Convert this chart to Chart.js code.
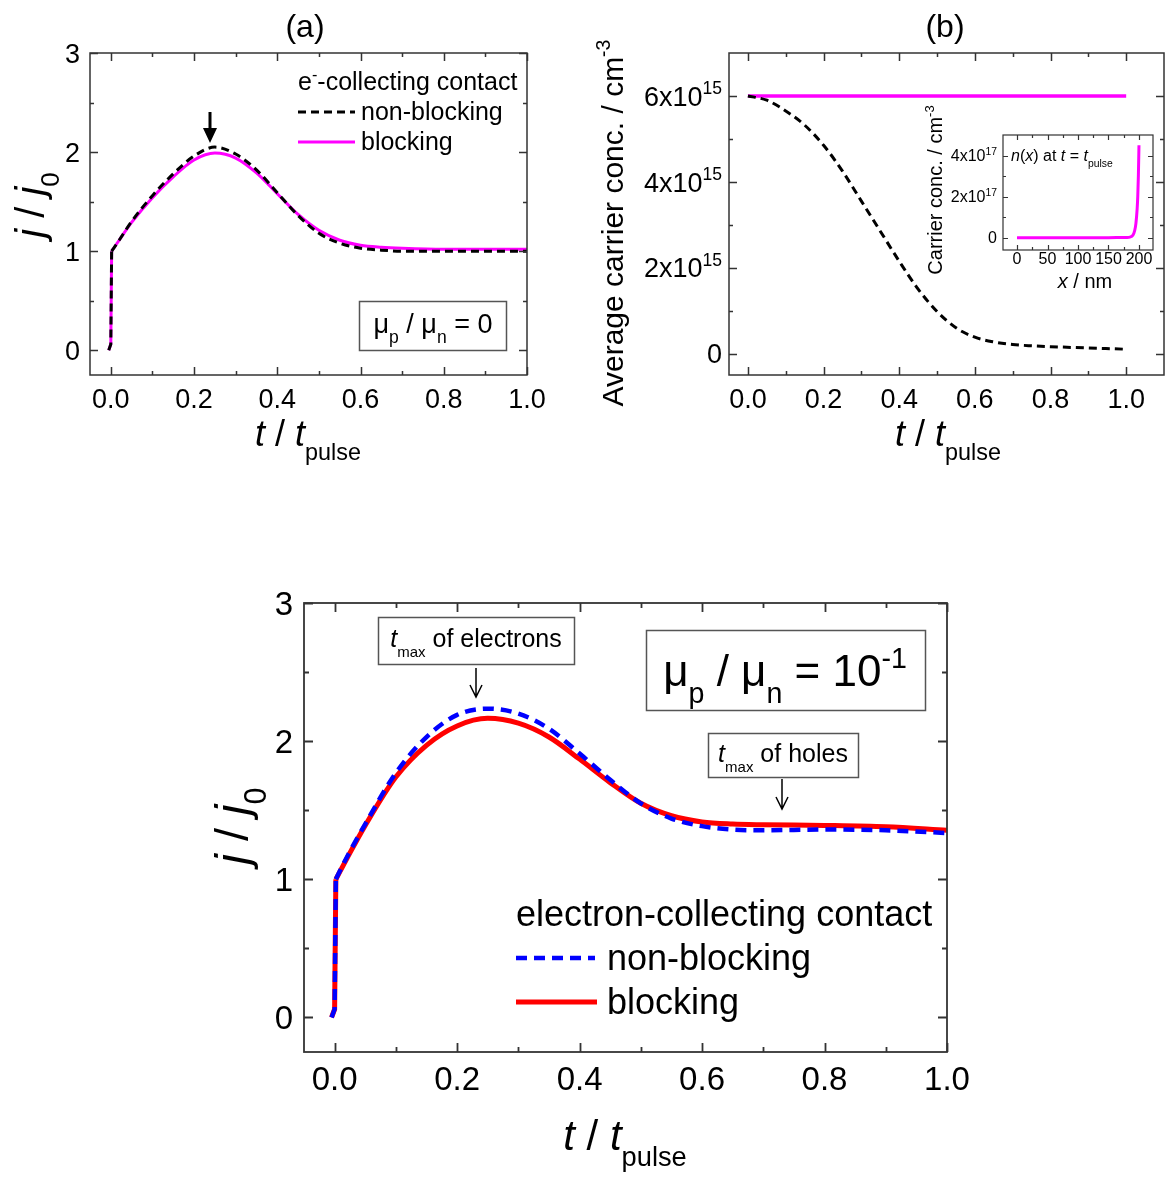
<!DOCTYPE html>
<html>
<head>
<meta charset="utf-8">
<title>Transient current, mu_p / mu_n</title>
<script src="https://cdn.jsdelivr.net/npm/chart.js@4.4.1/dist/chart.umd.min.js"></script>
<style>
  body { margin: 0; background: #fff; }
  #page { position: relative; width: 1169px; height: 1177px; overflow: hidden; background: #fff; }
  canvas { position: absolute; }
</style>
</head>
<body>
<div id="page">
  <canvas id="chartA" width="560" height="470" style="left:0px;top:0px"></canvas>
  <canvas id="chartB" width="599" height="470" style="left:570px;top:0px"></canvas>
  <canvas id="chartInset" width="269" height="215" style="left:900px;top:90px"></canvas>
  <canvas id="chartC" width="800" height="602" style="left:180px;top:575px"></canvas>
</div>
<script>
// (a) mu_p / mu_n = 0, j / j0 vs t / t_pulse
const tA = [-0.005, 0, 0.002, 0.02, 0.05, 0.1, 0.15, 0.2, 0.25, 0.3, 0.35, 0.4, 0.45, 0.5, 0.55, 0.6, 0.65, 0.7, 0.8, 0.9, 1.0];
const jNonBlockingA = [0, 0.06, 1.0, 1.11, 1.30, 1.56, 1.78, 1.96, 2.05, 1.98, 1.82, 1.59, 1.36, 1.18, 1.08, 1.03, 1.01, 1.0, 1.0, 1.0, 1.0];
const jBlockingA = [0, 0.06, 1.0, 1.11, 1.29, 1.54, 1.75, 1.92, 1.99, 1.94, 1.79, 1.58, 1.37, 1.21, 1.11, 1.06, 1.04, 1.03, 1.02, 1.02, 1.02];

// (b) average carrier concentration, units of 1e15 cm^-3
const tB = [0, 0.05, 0.1, 0.15, 0.2, 0.25, 0.3, 0.35, 0.4, 0.45, 0.5, 0.55, 0.6, 0.65, 0.7, 0.75, 0.8, 0.9, 1.0];
const nNonBlockingB = [6.0, 5.9, 5.65, 5.32, 4.85, 4.25, 3.55, 2.85, 2.15, 1.5, 0.98, 0.6, 0.38, 0.27, 0.21, 0.18, 0.16, 0.13, 0.10];
const nBlockingB = [6, 6, 6, 6, 6, 6, 6, 6, 6, 6, 6, 6, 6, 6, 6, 6, 6, 6, 6];

// inset: n(x) at t = t_pulse, units of 1e17 cm^-3
const xInset = [0, 25, 50, 75, 100, 125, 150, 170, 180, 185, 190, 193, 195, 197, 198, 199, 200];
const nInset = [0, 0, 0, 0, 0, 0, 0, 0.005, 0.01, 0.03, 0.12, 0.35, 0.7, 1.4, 2.0, 3.0, 4.5];

// (c) mu_p / mu_n = 1e-1
const tC = [-0.005, 0, 0.002, 0.02, 0.05, 0.1, 0.15, 0.2, 0.25, 0.3, 0.35, 0.4, 0.45, 0.5, 0.55, 0.6, 0.65, 0.7, 0.8, 0.9, 1.0];
const jNonBlockingC = [0, 0.06, 1.0, 1.16, 1.40, 1.77, 2.03, 2.19, 2.235, 2.20, 2.09, 1.91, 1.72, 1.55, 1.44, 1.385, 1.36, 1.355, 1.36, 1.355, 1.335];
const jBlockingC = [0, 0.06, 1.0, 1.15, 1.39, 1.74, 1.97, 2.11, 2.165, 2.13, 2.03, 1.87, 1.70, 1.55, 1.46, 1.415, 1.40, 1.395, 1.39, 1.38, 1.355];

// ticks
const tTicks = [0, 0.2, 0.4, 0.6, 0.8, 1.0];
const tMinor = [0.1, 0.3, 0.5, 0.7, 0.9];
const jTicks = [0, 1, 2, 3];
const jMinor = [0.5, 1.5, 2.5];
const nTicksB = [0, 2, 4, 6];
const nMinorB = [1, 3, 5];
const xTicksInset = [0, 50, 100, 150, 200];
const xMinorInset = [25, 75, 125, 175];
const nTicksInset = [0, 2, 4];
const nMinorInset = [1, 3];

const FONT = '"Liberation Sans", Arial, sans-serif';

// draws a run of text pieces (italic / sub / sup) starting at baseline y
function rich(ctx, parts, x, y, size, align, rot) {
  ctx.save();
  ctx.translate(x, y);
  if (rot) ctx.rotate(rot);
  ctx.textBaseline = 'alphabetic';
  ctx.textAlign = 'left';
  let w = 0;
  const items = parts.map(p => {
    const o = typeof p === 'string' ? { t: p } : p;
    const s = (o.sub || o.sup) ? size * (o.k || 0.65) : size;
    const font = (o.i ? 'italic ' : '') + s + 'px ' + FONT;
    ctx.font = font;
    const it = { t: o.t, font: font, x: w, dy: o.sub ? size * 0.38 : o.sup ? -size * 0.42 : 0 };
    w += ctx.measureText(o.t).width;
    return it;
  });
  const x0 = align === 'center' ? -w / 2 : align === 'right' ? -w : 0;
  ctx.fillStyle = '#000';
  items.forEach(it => { ctx.font = it.font; ctx.fillText(it.t, x0 + it.x, it.dy); });
  ctx.restore();
}

function line(ctx, x1, y1, x2, y2, color, lw, dash) {
  ctx.save();
  ctx.strokeStyle = color;
  ctx.lineWidth = lw;
  ctx.setLineDash(dash || []);
  ctx.beginPath();
  ctx.moveTo(x1, y1);
  ctx.lineTo(x2, y2);
  ctx.stroke();
  ctx.restore();
}

function box(ctx, x1, y1, x2, y2) {
  ctx.save();
  ctx.strokeStyle = '#555';
  ctx.lineWidth = 1.5;
  ctx.strokeRect(x1 + 0.5, y1 + 0.5, x2 - x1, y2 - y1);
  ctx.restore();
}

function thinArrow(ctx, x, y1, y2) {
  ctx.save();
  ctx.strokeStyle = '#000';
  ctx.lineWidth = 1.5;
  ctx.beginPath();
  ctx.moveTo(x, y1); ctx.lineTo(x, y2);
  ctx.moveTo(x - 6, y2 - 12); ctx.lineTo(x, y2); ctx.lineTo(x + 6, y2 - 12);
  ctx.stroke();
  ctx.restore();
}

// box, inward ticks on four sides, tick labels, plus panel texts
function framePlugin(f) {
  return {
    id: 'frame',
    afterDatasetsDraw(chart) {
      const ctx = chart.ctx, a = chart.chartArea;
      const sx = chart.scales.x, sy = chart.scales.y;
      ctx.save();
      ctx.strokeStyle = '#333';
      ctx.lineWidth = f.lw;
      ctx.strokeRect(a.left, a.top, a.right - a.left, a.bottom - a.top);
      ctx.beginPath();
      const xt = (vals, len) => vals.forEach(v => {
        const p = Math.round(sx.getPixelForValue(v)) + 0.5;
        ctx.moveTo(p, a.bottom); ctx.lineTo(p, a.bottom - len);
        ctx.moveTo(p, a.top); ctx.lineTo(p, a.top + len);
      });
      const yt = (vals, len) => vals.forEach(v => {
        const p = Math.round(sy.getPixelForValue(v)) + 0.5;
        ctx.moveTo(a.left, p); ctx.lineTo(a.left + len, p);
        ctx.moveTo(a.right, p); ctx.lineTo(a.right - len, p);
      });
      xt(f.xMajor, f.major); xt(f.xMinor, f.minor);
      yt(f.yMajor, f.major); yt(f.yMinor, f.minor);
      ctx.stroke();
      f.xMajor.forEach(v => rich(ctx, [f.xFmt(v)], sx.getPixelForValue(v), a.bottom + f.xGap, f.size, 'center'));
      f.yMajor.forEach(v => rich(ctx, f.yFmt(v), a.left - f.yGap, sy.getPixelForValue(v) + f.size * 0.36, f.size, 'right'));
      if (f.extra) {
        ctx.save();
        ctx.translate(-f.ox, -f.oy);
        f.extra(ctx);
        ctx.restore();
      }
      ctx.restore();
    }
  };
}

function pts(xs, ys) { return xs.map((x, i) => ({ x: x, y: ys[i] })); }

// the jump at t = 0 is drawn straight, the rest of the curve smooth
function jumpAndCurve(xs, ys, style) {
  const all = pts(xs, ys);
  return [
    Object.assign({ data: all.slice(0, 3), cubicInterpolationMode: 'default', tension: 0 }, style),
    Object.assign({ data: all.slice(2) }, style)
  ];
}

function baseOptions(pad, xr, yr) {
  return {
    responsive: false,
    animation: false,
    events: [],
    layout: { padding: pad },
    plugins: { legend: { display: false }, tooltip: { enabled: false }, title: { display: false } },
    elements: { point: { radius: 0 }, line: { cubicInterpolationMode: 'monotone' } },
    scales: {
      x: { type: 'linear', display: false, min: xr[0], max: xr[1] },
      y: { type: 'linear', display: false, min: yr[0], max: yr[1] }
    }
  };
}

const fmt1 = v => v.toFixed(1);
const intLabel = v => [String(v)];

// panel (a)
new Chart(document.getElementById('chartA'), {
  type: 'line',
  data: {
    datasets: [
      ...jumpAndCurve(tA, jNonBlockingA, { label: 'non-blocking', borderColor: '#000', borderWidth: 3, borderDash: [8, 5] }),
      ...jumpAndCurve(tA, jBlockingA, { label: 'blocking', borderColor: '#ff00ff', borderWidth: 3 })
    ]
  },
  options: baseOptions({ left: 90, right: 33, top: 53, bottom: 95 }, [-0.05, 1.0], [-0.25, 3]),
  plugins: [framePlugin({
    lw: 1.5, major: 8, minor: 4, size: 27, xGap: 33, yGap: 10, ox: 0, oy: 0,
    xMajor: tTicks, xMinor: tMinor, yMajor: jTicks, yMinor: jMinor,
    xFmt: fmt1, yFmt: intLabel,
    extra(ctx) {
      rich(ctx, ['(a)'], 305, 37, 32, 'center');
      rich(ctx, [{ t: 'j', i: 1 }, ' / ', { t: 'j', i: 1 }, { t: '0', sub: 1 }], 44, 205, 40, 'center', -Math.PI / 2);
      rich(ctx, [{ t: 't', i: 1 }, ' / ', { t: 't', i: 1 }, { t: 'pulse', sub: 1 }], 308, 446, 36, 'center');
      rich(ctx, ['e', { t: '-', sup: 1 }, '-collecting contact'], 298, 90, 25, 'left');
      line(ctx, 298, 112, 355, 112, '#000', 3, [8, 5]);
      rich(ctx, ['non-blocking'], 361, 120, 25, 'left');
      line(ctx, 298, 142, 355, 142, '#ff00ff', 3);
      rich(ctx, ['blocking'], 361, 150, 25, 'left');
      line(ctx, 210, 112, 210, 131, '#000', 3);
      ctx.fillStyle = '#000';
      ctx.beginPath();
      ctx.moveTo(203, 128); ctx.lineTo(217, 128); ctx.lineTo(210, 143); ctx.closePath();
      ctx.fill();
      box(ctx, 359, 301, 506, 350);
      rich(ctx, ['\u03bc', { t: 'p', sub: 1 }, ' / \u03bc', { t: 'n', sub: 1 }, ' = 0'], 433, 333, 27, 'center');
    }
  })]
});

// panel (b)
new Chart(document.getElementById('chartB'), {
  type: 'line',
  data: {
    datasets: [
      { label: 'non-blocking', data: pts(tB, nNonBlockingB), borderColor: '#000', borderWidth: 3, borderDash: [8, 5] },
      { label: 'blocking', data: pts(tB, nBlockingB), borderColor: '#ff00ff', borderWidth: 3.5 }
    ]
  },
  options: baseOptions({ left: 159, right: 5, top: 53, bottom: 95 }, [-0.05, 1.1], [-0.5, 7]),
  plugins: [framePlugin({
    lw: 1.5, major: 8, minor: 4, size: 27, xGap: 33, yGap: 7, ox: 570, oy: 0,
    xMajor: tTicks, xMinor: tMinor, yMajor: nTicksB, yMinor: nMinorB,
    xFmt: fmt1, yFmt: v => v === 0 ? ['0'] : [v + 'x10', { t: '15', sup: 1 }],
    extra(ctx) {
      rich(ctx, ['(b)'], 945, 37, 32, 'center');
      rich(ctx, ['Average carrier conc. / cm', { t: '-3', sup: 1 }], 623, 223, 30, 'center', -Math.PI / 2);
      rich(ctx, [{ t: 't', i: 1 }, ' / ', { t: 't', i: 1 }, { t: 'pulse', sub: 1 }], 948, 446, 36, 'center');
    }
  })]
});

// inset of (b)
new Chart(document.getElementById('chartInset'), {
  type: 'line',
  data: {
    datasets: [
      { label: 'n(x)', data: pts(xInset, nInset), borderColor: '#ff00ff', borderWidth: 3 }
    ]
  },
  options: baseOptions({ left: 103, right: 16, top: 45, bottom: 55 }, [-23, 223], [-0.6, 5]),
  plugins: [framePlugin({
    lw: 1.2, major: 5, minor: 3, size: 16, xGap: 14, yGap: 6, ox: 900, oy: 90,
    xMajor: xTicksInset, xMinor: xMinorInset, yMajor: nTicksInset, yMinor: nMinorInset,
    xFmt: v => String(v), yFmt: v => v === 0 ? ['0'] : [v + 'x10', { t: '17', sup: 1 }],
    extra(ctx) {
      rich(ctx, [{ t: 'n', i: 1 }, '(', { t: 'x', i: 1 }, ') at ', { t: 't', i: 1 }, ' = ', { t: 't', i: 1 }, { t: 'pulse', sub: 1 }], 1011, 161, 16, 'left');
      rich(ctx, ['Carrier conc. / cm', { t: '-3', sup: 1 }], 942, 190, 20, 'center', -Math.PI / 2);
      rich(ctx, [{ t: 'x', i: 1 }, ' / nm'], 1085, 288, 20, 'center');
    }
  })]
});

// panel (c)
new Chart(document.getElementById('chartC'), {
  type: 'line',
  data: {
    datasets: [
      ...jumpAndCurve(tC, jNonBlockingC, { label: 'non-blocking', borderColor: '#0000ff', borderWidth: 4.5, borderDash: [11, 7] }),
      ...jumpAndCurve(tC, jBlockingC, { label: 'blocking', borderColor: '#ff0000', borderWidth: 5 })
    ]
  },
  options: baseOptions({ left: 124, right: 33, top: 28, bottom: 125 }, [-0.05, 1.0], [-0.25, 3]),
  plugins: [framePlugin({
    lw: 1.8, major: 9, minor: 5, size: 33, xGap: 38, yGap: 11, ox: 180, oy: 575,
    xMajor: tTicks, xMinor: tMinor, yMajor: jTicks, yMinor: jMinor,
    xFmt: fmt1, yFmt: intLabel,
    extra(ctx) {
      rich(ctx, [{ t: 'j', i: 1 }, ' / ', { t: 'j', i: 1 }, { t: '0', sub: 1 }], 248, 826, 47, 'center', -Math.PI / 2);
      rich(ctx, [{ t: 't', i: 1 }, ' / ', { t: 't', i: 1 }, { t: 'pulse', sub: 1 }], 625, 1150, 42, 'center');
      rich(ctx, ['electron-collecting contact'], 516, 926, 36, 'left');
      line(ctx, 516, 958, 595, 958, '#0000ff', 4.5, [11, 7]);
      rich(ctx, ['non-blocking'], 607, 970, 36, 'left');
      line(ctx, 516, 1002, 597, 1002, '#ff0000', 5);
      rich(ctx, ['blocking'], 607, 1014, 36, 'left');
      box(ctx, 378, 617, 574, 664);
      rich(ctx, [{ t: 't', i: 1 }, { t: 'max', sub: 1, k: 0.6 }, ' of electrons'], 476, 647, 25, 'center');
      thinArrow(ctx, 476, 668, 697);
      box(ctx, 708, 733, 858, 777);
      rich(ctx, [{ t: 't', i: 1 }, { t: 'max', sub: 1, k: 0.6 }, ' of holes'], 783, 762, 25, 'center');
      thinArrow(ctx, 782, 779, 809);
      box(ctx, 646, 630, 925, 710);
      rich(ctx, ['\u03bc', { t: 'p', sub: 1 }, ' / \u03bc', { t: 'n', sub: 1 }, ' = 10', { t: '-1', sup: 1 }], 785, 686, 44, 'center');
    }
  })]
});
</script>
</body>
</html>
